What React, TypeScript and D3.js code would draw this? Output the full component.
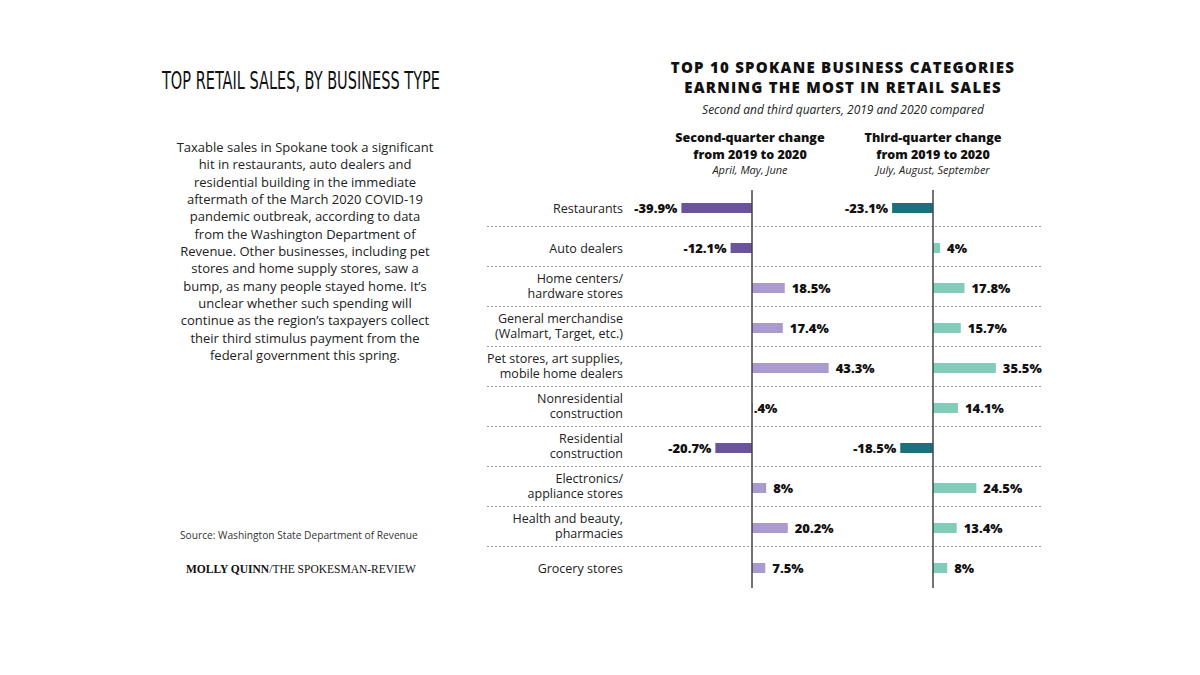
import * as d3 from "d3";
import React, { useEffect, useRef } from "react";

const categories = [
  "Restaurants",
  "Auto dealers",
  "Home centers/\nhardware stores",
  "General merchandise\n(Walmart, Target, etc.)",
  "Pet stores, art supplies,\nmobile home dealers",
  "Nonresidential\nconstruction",
  "Residential\nconstruction",
  "Electronics/\nappliance stores",
  "Health and beauty,\npharmacies",
  "Grocery stores",
];
const secondQuarter = [-39.9, -12.1, 18.5, 17.4, 43.3, 0.4, -20.7, 8, 20.2, 7.5];
const thirdQuarter = [-23.1, 4, 17.8, 15.7, 35.5, 14.1, -18.5, 24.5, 13.4, 8];

const paragraph = [
  "Taxable sales in Spokane took a significant",
  "hit in restaurants, auto dealers and",
  "residential building in the immediate",
  "aftermath of the March 2020 COVID-19",
  "pandemic outbreak, according to data",
  "from the Washington Department of",
  "Revenue. Other businesses, including pet",
  "stores and home supply stores, saw a",
  "bump, as many people stayed home. It’s",
  "unclear whether such spending will",
  "continue as the region’s taxpayers collect",
  "their third stimulus payment from the",
  "federal government this spring.",
];

const panels = [
  {
    values: secondQuarter,
    zero: 752,
    headX: 750,
    title: ["Second-quarter change", "from 2019 to 2020"],
    months: "April, May, June",
    neg: "#6a549c",
    pos: "#a99bd0",
  },
  {
    values: thirdQuarter,
    zero: 933,
    headX: 933,
    title: ["Third-quarter change", "from 2019 to 2020"],
    months: "July, August, September",
    neg: "#1c6f7d",
    pos: "#82cdb9",
  },
];

const SANS = "'Open Sans', 'Noto Sans', sans-serif";
const fmt = (v: number) => `${String(v).replace(/^0\./, ".")}%`;

const App = () => {
  const svgRef = useRef(null);

  useEffect(() => {
    const svg = d3.select(svgRef.current);
    svg.selectAll("*").remove();

    // left column text
    svg
      .append("text")
      .attr("x", 162)
      .attr("y", 89)
      .attr("font-family", "'Liberation Sans Narrow', 'DejaVu Sans Condensed', sans-serif")
      .attr("font-size", 24)
      .attr("fill", "#111")
      .attr("textLength", 278)
      .attr("lengthAdjust", "spacingAndGlyphs")
      .text("TOP RETAIL SALES, BY BUSINESS TYPE");

    svg
      .append("g")
      .selectAll("text")
      .data(paragraph)
      .join("text")
      .attr("x", 305)
      .attr("y", (_d, i) => 152 + i * 17.33)
      .attr("text-anchor", "middle")
      .attr("font-family", SANS)
      .attr("font-size", 13)
      .attr("fill", "#222")
      .text((d) => d);

    svg
      .append("text")
      .attr("x", 180)
      .attr("y", 539)
      .attr("font-family", SANS)
      .attr("font-size", 10.2)
      .attr("fill", "#333")
      .text("Source: Washington State Department of Revenue");

    const credit = svg
      .append("text")
      .attr("x", 186)
      .attr("y", 573)
      .attr("font-family", "'Liberation Serif', serif")
      .attr("font-size", 11.5)
      .attr("fill", "#111");
    credit.append("tspan").attr("font-weight", "bold").text("MOLLY QUINN");
    credit.append("tspan").text("/THE SPOKESMAN-REVIEW");

    // chart header
    const cx = 843;
    ["TOP 10 SPOKANE BUSINESS CATEGORIES", "EARNING THE MOST IN RETAIL SALES"].forEach((t, i) => {
      svg
        .append("text")
        .attr("x", cx)
        .attr("y", 73 + i * 19.5)
        .attr("text-anchor", "middle")
        .attr("font-family", SANS)
        .attr("font-weight", 800)
        .attr("font-size", 15)
        .attr("letter-spacing", 1.25)
        .attr("fill", "#111")
        .text(t);
    });
    svg
      .append("text")
      .attr("x", cx)
      .attr("y", 114)
      .attr("text-anchor", "middle")
      .attr("font-family", SANS)
      .attr("font-style", "italic")
      .attr("font-size", 12)
      .attr("fill", "#222")
      .text("Second and third quarters, 2019 and 2020 compared");

    // rows
    const y = d3.scaleBand().domain(categories).range([186, 586]);
    const rowMid = (c: string) => (y(c) as number) + y.bandwidth() / 2;
    const barH = 10;

    svg
      .append("g")
      .selectAll("line")
      .data(categories.slice(1))
      .join("line")
      .attr("x1", 487)
      .attr("x2", 1041)
      .attr("y1", (d) => (y(d) as number) + 0.5)
      .attr("y2", (d) => (y(d) as number) + 0.5)
      .attr("stroke", "#9a9a9a")
      .attr("stroke-width", 1)
      .attr("stroke-dasharray", "2,2");

    const labels = svg
      .append("g")
      .selectAll("text")
      .data(categories)
      .join("text")
      .attr("text-anchor", "end")
      .attr("font-family", SANS)
      .attr("font-size", 12.5)
      .attr("fill", "#222");
    labels.each(function (d) {
      const lines = d.split("\n");
      const m = rowMid(d);
      const t = d3.select(this);
      lines.forEach((l, i) => {
        const yy = lines.length === 1 ? m + 6.5 : m - 3 + i * 15;
        t.append("tspan").attr("x", 623).attr("y", yy).text(l);
      });
    });

    panels.forEach((p) => {
      const x = d3
        .scaleLinear()
        .domain([-50, 50])
        .range([p.zero - 88.5, p.zero + 88.5]);

      const g = svg.append("g");

      g.selectAll("text.head")
        .data(p.title)
        .join("text")
        .attr("class", "head")
        .attr("x", p.headX)
        .attr("y", (_d, i) => 142 + i * 16.5)
        .attr("text-anchor", "middle")
        .attr("font-family", SANS)
        .attr("font-weight", 800)
        .attr("font-size", 12.5)
        .attr("fill", "#111")
        .text((d) => d);
      g.append("text")
        .attr("x", p.headX)
        .attr("y", 174)
        .attr("text-anchor", "middle")
        .attr("font-family", SANS)
        .attr("font-style", "italic")
        .attr("font-size", 11)
        .attr("fill", "#222")
        .text(p.months);

      const rows = categories.map((c, i) => ({ c, v: p.values[i] }));

      g.selectAll("rect")
        .data(rows)
        .join("rect")
        .attr("x", (d) => Math.min(x(0), x(d.v)))
        .attr("width", (d) => Math.max(1, Math.abs(x(d.v) - x(0))))
        .attr("y", (d) => rowMid(d.c) + 2 - barH / 2)
        .attr("height", barH)
        .attr("fill", (d) => (d.v < 0 ? p.neg : p.pos));

      g.selectAll("text.val")
        .data(rows)
        .join("text")
        .attr("class", "val")
        .attr("x", (d) => (d.v < 0 ? x(d.v) - 4 : x(d.v) + (d.v < 1 ? 1 : 7)))
        .attr("y", (d) => rowMid(d.c) + 2 + 5)
        .attr("text-anchor", (d) => (d.v < 0 ? "end" : "start"))
        .attr("font-family", SANS)
        .attr("font-weight", 800)
        .attr("font-size", 13)
        .attr("fill", "#111")
        .text((d) => fmt(d.v));

      g.append("line")
        .attr("x1", x(0))
        .attr("x2", x(0))
        .attr("y1", 190)
        .attr("y2", 588)
        .attr("stroke", "#444")
        .attr("stroke-width", 1.5);
    });
  }, []);

  return <svg ref={svgRef} width={1200} height={675} style={{ display: "block", margin: -8, background: "#fff" }} />;
};

export default App;
